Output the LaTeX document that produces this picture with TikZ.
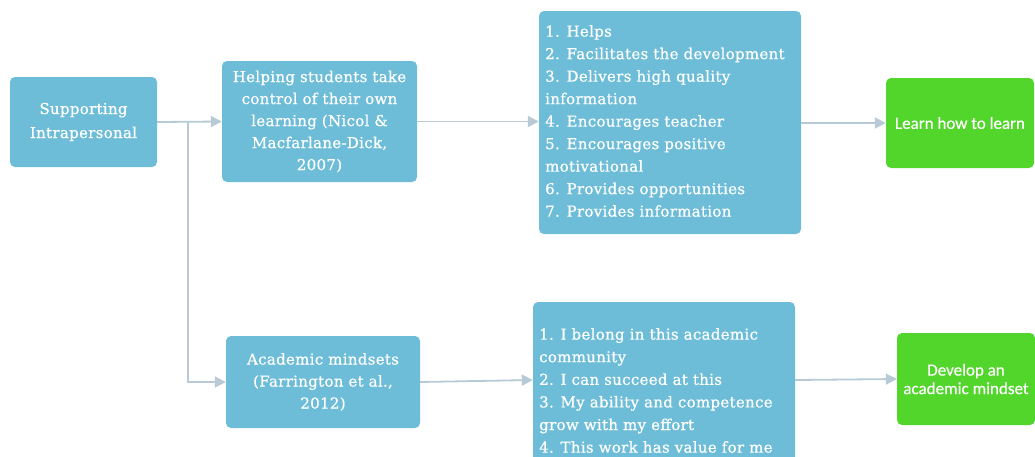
\documentclass[tikz,border=0pt]{standalone}
\usepackage{fontspec}
\setmainfont{DejaVu Serif}
\newfontfamily\bluefam[LetterSpace=2,FakeBold=0.6]{DejaVu Serif}
\newfontfamily\greenfont[FakeBold=0.4]{Carlito}
\usetikzlibrary{arrows.meta}
\definecolor{boxblue}{HTML}{6DBDD8}
\definecolor{boxgreen}{HTML}{52D62C}
\definecolor{linkcol}{HTML}{B7CAD6}
\tikzset{
  bluefont/.style={font=\bluefam\fontsize{15}{22.5}\selectfont},
  bluebox/.style={fill=boxblue, draw=none, rounded corners=5pt, text=white, inner sep=0pt, bluefont},
  greenbox/.style={fill=boxgreen, draw=none, rounded corners=5pt, text=white, inner sep=0pt,
    font=\greenfont\fontsize{17}{18.5}\selectfont, align=center},
  link/.style={draw=linkcol, line width=1.8pt, -{Triangle[length=11pt,width=11pt]}}
}
\begin{document}
\begin{tikzpicture}[x=1pt,y=-1pt]
\useasboundingbox (0,0) rectangle (1035,456);
\clip (0,0) rectangle (1035,456);
% boxes
\node[bluebox, minimum width=147pt, minimum height=90pt, align=center, font=\bluefam\fontsize{15}{24}\selectfont] (sup) at (83.5,122)
  {Supporting\\Intrapersonal};
\node[bluebox, minimum width=195pt, minimum height=121pt, align=center, text width=192pt, font=\bluefam\fontsize{15}{22}\selectfont] (help) at (319.5,121.5)
  {Helping students take\\control of their own\\learning (Nicol \&\\Macfarlane-Dick,\\2007)};
\node[bluebox, minimum width=262pt, minimum height=223pt] (list1) at (670,122.5) {};
\node[bluefont, text=white, align=left, anchor=west, inner sep=0pt] (list1t) at (545,121)
  {1. Helps\\2. Facilitates the development\\3. Delivers high quality\\information\\4. Encourages teacher\\5. Encourages positive\\motivational\\6. Provides opportunities\\7. Provides information};
\node[greenbox, minimum width=148pt, minimum height=90pt] (learn) at (960,123) {Learn how to learn};
\node[bluebox, minimum width=194pt, minimum height=92pt, align=center, text width=192pt, font=\bluefam\fontsize{15}{22}\selectfont] (acad) at (323,382)
  {Academic mindsets\\(Farrington et al.,\\2012)};
\node[bluebox, minimum width=262pt, minimum height=176pt] (list2) at (664,390) {};
\node[font=\bluefam\fontsize{15}{22.6}\selectfont, text=white, align=left, anchor=west, inner sep=0pt] (list2t) at (539,390.5)
  {1. I belong in this academic\\community\\2. I can succeed at this\\3. My ability and competence\\grow with my effort\\4. This work has value for me};
\node[greenbox, minimum width=138pt, minimum height=92pt] (dev) at (966,379) {Develop an\\academic mindset};
% connectors
\coordinate (split) at (188,122);
\draw[link] (sup.east) -- (help.west);
\draw[link] (split) |- (acad.west);
\draw[link] (help.east) -- (list1.west |- help.east);
\draw[link] (list1.east |- learn.west) -- (learn.west);
\draw[link] (acad.east) -- (list2.west |- 0,380);
\draw[link] (list2.east |- 0,380) -- (dev.west);
\end{tikzpicture}
\end{document}
